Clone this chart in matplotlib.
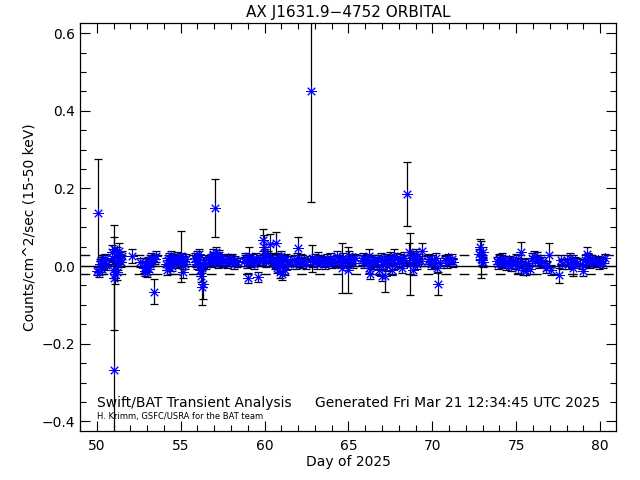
import matplotlib
matplotlib.use("Agg")
import matplotlib.pyplot as plt
from matplotlib.ticker import MultipleLocator

title = "AX J1631.9\u22124752 ORBITAL"
xlabel = "Day of 2025"
ylabel = "Counts/cm^2/sec (15-50 keV)"
note_left = "Swift/BAT Transient Analysis"
note_right = "Generated Fri Mar 21 12:34:45 UTC 2025"
note_small = "H. Krimm, GSFC/USRA for the BAT team"

days = [
    50.02, 50.08, 50.12, 50.18, 50.25, 50.30, 50.36, 50.42, 50.48, 50.55,
    50.88, 50.92, 50.96, 51.00, 51.03, 51.05, 51.08, 51.12, 51.15, 51.18, 51.22, 51.26, 51.30, 51.35, 51.40, 51.45, 51.50,
    52.10, 52.55,
    52.80, 52.85, 52.90, 52.95, 53.00, 53.05, 53.10, 53.15, 53.20, 53.25, 53.30, 53.44, 53.50, 53.55,
    54.15, 54.20, 54.25, 54.30, 54.35, 54.40, 54.45, 54.50, 54.55, 54.60, 54.70, 54.80, 54.90, 55.00, 55.05, 55.10, 55.15, 55.20, 55.25, 55.30,
    55.85, 55.90, 55.95, 56.00, 56.05, 56.10, 56.15, 56.20, 56.25, 56.30, 56.35, 56.40, 56.45, 56.50,
    56.75, 56.80, 56.85, 56.90, 56.95, 57.00, 57.04, 57.10, 57.15, 57.20, 57.25, 57.30, 57.35, 57.40, 57.50,
    57.65, 57.75, 57.85, 57.95, 58.05, 58.15, 58.25, 58.35,
    58.75, 58.85, 58.95, 59.00, 59.05, 59.10, 59.20, 59.30, 59.40, 59.50, 59.60, 59.70, 59.75,
    59.85, 59.90, 59.95, 60.00, 60.05, 60.10, 60.20, 60.30, 60.40, 60.50,
    60.60, 60.65, 60.71, 60.75, 60.80, 60.85, 60.90, 60.95, 61.00, 61.05, 61.10, 61.15, 61.20, 61.30, 61.40, 61.50,
    61.75, 61.85, 61.95, 61.99, 62.05, 62.15, 62.25, 62.35, 62.45,
    62.70, 62.76, 62.85, 62.90, 63.00, 63.10, 63.20, 63.30, 63.40,
    63.55, 63.60, 63.70, 63.80, 63.90, 64.00, 64.10, 64.20, 64.30, 64.40, 64.50,
    64.55, 64.60, 64.70, 64.80, 64.90, 65.00, 65.05, 65.10, 65.20, 65.30, 65.40,
    65.80, 65.85, 65.90, 66.00, 66.10, 66.20, 66.25, 66.30, 66.40, 66.50, 66.55,
    66.65, 66.75, 66.85, 66.95, 67.00, 67.05, 67.10, 67.20, 67.25, 67.30, 67.40, 67.50,
    67.60, 67.65, 67.70, 67.80, 67.90, 68.00, 68.10, 68.20, 68.30, 68.40, 68.52, 68.60, 68.70,
    68.80, 68.85, 68.90, 69.00, 69.05, 69.10, 69.20, 69.30, 69.40,
    69.75, 69.80, 69.90, 70.00, 70.10, 70.20, 70.30, 70.35, 70.45,
    70.75, 70.85, 70.95, 71.05, 71.15, 71.25,
    72.80, 72.84, 72.90, 72.95, 73.00, 73.05,
    73.85, 73.90, 74.00, 74.10, 74.15, 74.20, 74.30, 74.40,
    74.50, 74.60, 74.70, 74.80, 74.90, 75.00, 75.10, 75.20, 75.28,
    75.40, 75.50, 75.60, 75.70, 75.80,
    75.95, 76.05, 76.15, 76.25, 76.35, 76.45, 76.55,
    76.75, 76.85, 76.97, 77.05,
    77.55, 77.65, 77.75,
    78.00, 78.10, 78.20, 78.30, 78.40, 78.50, 78.60,
    78.95, 79.00, 79.10, 79.20, 79.25, 79.30, 79.40, 79.50, 79.60,
    79.75, 79.85, 79.95, 80.05, 80.15, 80.30,
]

rates = [
    -0.012, 0.137, -0.015, 0.005, 0.012, -0.008, 0.015, 0.008, 0.018, 0.003,
    0.020, 0.035, -0.010, -0.030, -0.268, 0.045, -0.020, 0.010, 0.025, -0.015, 0.030, 0.005, 0.040, 0.015, 0.020, 0.010, 0.025,
    0.025, 0.010,
    -0.005, 0.008, -0.012, 0.002, -0.015, 0.010, -0.008, 0.015, 0.005, 0.020, 0.012, -0.066, 0.018, 0.025,
    0.005, -0.010, 0.015, 0.020, -0.005, 0.010, 0.025, 0.000, 0.018, 0.012, 0.008, 0.022, 0.015, 0.025, 0.010, 0.020, -0.015, 0.012, 0.005, 0.018,
    0.020, 0.010, 0.025, 0.005, 0.015, 0.030, -0.010, -0.025, -0.055, -0.005, -0.045, 0.010, 0.015, 0.005,
    0.015, 0.020, 0.010, 0.030, 0.025, 0.018, 0.149, 0.035, 0.012, 0.022, 0.008, 0.028, 0.015, 0.020, 0.010,
    0.015, 0.008, 0.020, 0.012, 0.018, 0.005, 0.015, 0.010,
    0.012, 0.020, 0.008, -0.031, 0.025, 0.015, 0.010, 0.018, 0.005, 0.020, -0.028, 0.012, 0.015,
    0.015, 0.067, 0.050, 0.020, 0.030, 0.010, 0.025, 0.057, 0.020, 0.015,
    0.005, 0.010, 0.060, -0.005, 0.020, 0.015, -0.015, 0.000, 0.025, -0.020, 0.010, 0.015, -0.010, 0.018, 0.005, 0.012,
    0.015, 0.005, 0.020, 0.046, 0.010, 0.018, 0.008, 0.012, 0.005,
    0.015, 0.451, 0.020, 0.010, 0.018, 0.005, 0.022, 0.012, 0.015,
    0.010, 0.005, 0.018, 0.012, 0.020, 0.008, 0.015, 0.010, 0.025, 0.015, 0.012,
    0.010, -0.005, 0.020, 0.015, 0.010, -0.010, 0.025, 0.015, 0.018, 0.008, 0.020,
    0.015, 0.020, 0.008, 0.012, 0.018, -0.005, 0.025, -0.020, 0.010, 0.015, 0.005,
    0.010, 0.015, -0.010, 0.020, -0.025, 0.005, 0.012, -0.025, 0.018, 0.000, 0.015, 0.022,
    -0.010, 0.015, 0.025, 0.005, 0.020, 0.010, 0.018, -0.005, 0.022, 0.015, 0.185, 0.035, 0.005,
    0.020, -0.010, 0.025, 0.015, 0.030, 0.005, 0.018, 0.012, 0.039,
    0.012, 0.018, 0.005, 0.015, 0.010, 0.020, -0.005, -0.045, 0.008,
    0.015, 0.008, 0.020, 0.012, 0.018, 0.010,
    0.030, 0.049, 0.017, 0.015, 0.035, 0.010,
    0.012, 0.005, 0.018, 0.010, 0.022, 0.008, 0.015, 0.002,
    0.008, 0.015, 0.000, 0.012, 0.005, 0.018, -0.005, 0.010, 0.037,
    -0.010, 0.005, -0.012, 0.008, -0.008,
    0.020, 0.025, 0.012, 0.022, 0.008, 0.015, 0.010,
    -0.005, 0.002, 0.028, -0.010,
    -0.024, 0.015, 0.005,
    0.015, 0.005, 0.020, 0.010, -0.005, 0.012, 0.008,
    0.005, -0.012, 0.015, 0.030, 0.010, 0.020, 0.008, 0.015, 0.012,
    0.010, 0.015, 0.005, 0.012, 0.008, 0.020,
]

errors = [
    0.012, 0.140, 0.012, 0.013, 0.012, 0.013, 0.014, 0.012, 0.013, 0.012,
    0.015, 0.020, 0.020, 0.135, 0.280, 0.030, 0.025, 0.020, 0.020, 0.020, 0.020, 0.015, 0.020, 0.015, 0.015, 0.013, 0.014,
    0.018, 0.012,
    0.013, 0.012, 0.013, 0.012, 0.014, 0.013, 0.012, 0.013, 0.012, 0.014, 0.013, 0.033, 0.013, 0.014,
    0.015, 0.014, 0.013, 0.014, 0.015, 0.013, 0.014, 0.013, 0.013, 0.013, 0.012, 0.014, 0.013, 0.065, 0.013, 0.014, 0.015, 0.013, 0.013, 0.013,
    0.014, 0.013, 0.014, 0.013, 0.013, 0.015, 0.015, 0.015, 0.045, 0.014, 0.040, 0.013, 0.013, 0.013,
    0.012, 0.012, 0.012, 0.013, 0.012, 0.012, 0.075, 0.013, 0.012, 0.012, 0.012, 0.013, 0.012, 0.012, 0.012,
    0.012, 0.012, 0.012, 0.012, 0.012, 0.012, 0.012, 0.012,
    0.012, 0.013, 0.012, 0.012, 0.025, 0.013, 0.012, 0.013, 0.012, 0.013, 0.012, 0.012, 0.013,
    0.013, 0.028, 0.030, 0.013, 0.014, 0.013, 0.013, 0.025, 0.013, 0.013,
    0.013, 0.013, 0.028, 0.013, 0.014, 0.013, 0.015, 0.013, 0.014, 0.015, 0.013, 0.014, 0.013, 0.013, 0.012, 0.013,
    0.013, 0.012, 0.013, 0.030, 0.012, 0.013, 0.012, 0.012, 0.012,
    0.012, 0.286, 0.035, 0.012, 0.012, 0.012, 0.013, 0.012, 0.012,
    0.012, 0.012, 0.013, 0.012, 0.013, 0.012, 0.012, 0.012, 0.013, 0.012, 0.012,
    0.012, 0.065, 0.013, 0.012, 0.012, 0.060, 0.013, 0.012, 0.012, 0.012, 0.012,
    0.013, 0.013, 0.012, 0.013, 0.013, 0.014, 0.020, 0.014, 0.013, 0.013, 0.012,
    0.013, 0.013, 0.013, 0.014, 0.014, 0.013, 0.013, 0.042, 0.013, 0.013, 0.013, 0.014,
    0.013, 0.014, 0.020, 0.013, 0.013, 0.013, 0.013, 0.013, 0.014, 0.013, 0.082, 0.025, 0.080,
    0.013, 0.012, 0.014, 0.013, 0.014, 0.013, 0.013, 0.013, 0.020,
    0.013, 0.012, 0.012, 0.013, 0.012, 0.013, 0.014, 0.030, 0.013,
    0.012, 0.012, 0.012, 0.012, 0.012, 0.012,
    0.015, 0.020, 0.048, 0.013, 0.015, 0.013,
    0.012, 0.012, 0.012, 0.012, 0.012, 0.012, 0.012, 0.012,
    0.012, 0.012, 0.012, 0.012, 0.012, 0.012, 0.012, 0.012, 0.024,
    0.012, 0.012, 0.012, 0.012, 0.012,
    0.013, 0.013, 0.013, 0.013, 0.013, 0.013, 0.013,
    0.012, 0.012, 0.031, 0.012,
    0.020, 0.013, 0.012,
    0.013, 0.012, 0.013, 0.012, 0.020, 0.012, 0.012,
    0.013, 0.014, 0.013, 0.018, 0.012, 0.014, 0.012, 0.013, 0.012,
    0.012, 0.012, 0.012, 0.012, 0.012, 0.012,
]

zero_level = 0.0
upper_level = 0.028
lower_level = -0.021

fig = plt.figure(figsize=(6.4, 4.8), dpi=100)
ax = fig.add_axes([0.125, 0.102, 0.8375, 0.850])

ax.errorbar(days, rates, yerr=errors, fmt='none', ecolor='black',
            elinewidth=0.9, capsize=3.0, capthick=0.9, zorder=2)
ax.plot(days, rates, linestyle='none', marker=(8, 2, 0), markersize=7.5,
        markeredgecolor='blue', markeredgewidth=0.7, color='blue', zorder=3)

ax.axhline(zero_level, color='black', linewidth=1.0, zorder=1)
ax.axhline(upper_level, color='black', linewidth=1.0, linestyle=(0, (7, 6)), zorder=1)
ax.axhline(lower_level, color='black', linewidth=1.0, linestyle=(0, (7, 6)), zorder=1)

ax.set_xlim(49.0, 80.95)
ax.set_ylim(-0.425, 0.626)
ax.xaxis.set_major_locator(MultipleLocator(5))
ax.xaxis.set_minor_locator(MultipleLocator(1))
ax.yaxis.set_major_locator(MultipleLocator(0.2))
ax.yaxis.set_minor_locator(MultipleLocator(0.05))
ax.tick_params(which='both', direction='in', top=True, right=True,
               width=0.8, labelsize=10, colors='black')
ax.tick_params(which='major', length=7.5)
ax.tick_params(which='minor', length=4)
ax.tick_params(axis='x', pad=6)
for s in ax.spines.values():
    s.set_linewidth(0.9)

ax.set_title(title, fontsize=11, pad=4)
ax.set_xlabel(xlabel, fontsize=10, labelpad=1)
ax.set_ylabel(ylabel, fontsize=10, labelpad=4)

ax.text(50.0, -0.363, note_left, fontsize=10, ha='left', va='baseline')
ax.text(80.0, -0.363, note_right, fontsize=10, ha='right', va='baseline')
ax.text(50.0, -0.395, note_small, fontsize=6, ha='left', va='baseline')

fig.savefig("out.png", dpi=100)
